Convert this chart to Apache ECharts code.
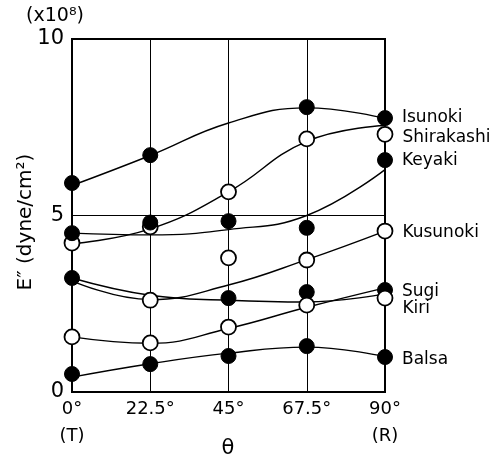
<!DOCTYPE html>
<html>
<head>
<meta charset="utf-8">
<script src="https://cdn.jsdelivr.net/npm/echarts@6/dist/echarts.min.js"></script>
<style>
  html, body { margin: 0; padding: 0; background: #fff; }
  #chart { width: 491px; height: 460px; }
</style>
</head>
<body>
<div id="chart"></div>
<script>
var angles = [0, 22.5, 45, 67.5, 90];
var tickLabels = ['0°', '22.5°', '45°', '67.5°', '90°'];
var tickSubLabels = ['(T)', '', '', '', '(R)'];

// measured points (null = no point plotted)
var isunokiPts = [5.92, 6.71, null, 8.07, 7.76];
var shirakashiPts = [4.22, 4.68, 5.67, 7.17, 7.3];
var keyakiPts = [4.5, 4.8, 4.84, 4.65, 6.57];
var kusunokiPts = [null, 2.6, 3.8, 3.74, 4.56];
var sugiPts = [3.23, null, 2.66, 2.83, 2.89];
var kiriPts = [1.56, 1.39, 1.84, 2.46, 2.66];
var balsaPts = [0.51, 0.79, 1.02, 1.3, 0.99];

// hand-drawn fitted curves
var isunokiCurve = [5.85, 6.7, 7.62, 8.05, 7.75];
var shirakashiCurve = [4.2, 4.62, 5.67, 7.1, 7.55];
var keyakiCurve = [4.5, 4.45, 4.6, 5.0, 6.3];
var kusunokiCurve = [3.15, 2.62, 3.03, 3.75, 4.56];
var sugiCurve = [3.23, 2.74, 2.6, 2.55, 2.78];
var kiriCurve = [1.56, 1.38, 1.8, 2.4, 2.95];
var balsaCurve = [0.42, 0.8, 1.1, 1.27, 1.0];

var names = ['Isunoki', 'Shirakashi', 'Keyaki', 'Kusunoki', 'Sugi', 'Kiri', 'Balsa'];
var filled = [true, false, true, false, true, false, true];
var labelOffsets = [0, 3, 0, 2, 2, 10, 3];
var allPts = [isunokiPts, shirakashiPts, keyakiPts, kusunokiPts, sugiPts, kiriPts, balsaPts];
var allCurves = [isunokiCurve, shirakashiCurve, keyakiCurve, kusunokiCurve, sugiCurve, kiriCurve, balsaCurve];

var FONT = 'DejaVu Sans';

function pairs(arr) {
    var out = [];
    for (var i = 0; i < angles.length; i++) {
        if (arr[i] !== null) out.push([angles[i], arr[i]]);
    }
    return out;
}

var series = [];
allCurves.forEach(function (c, k) {
    series.push({
        name: names[k] + ' curve',
        type: 'line',
        data: pairs(c),
        smooth: 0.45,
        showSymbol: false,
        lineStyle: { color: '#000', width: 1.4 },
        z: 2,
        silent: true
    });
});
allPts.forEach(function (p, k) {
    var data = pairs(p).map(function (d) {
        var item = { value: d };
        if (d[0] === 90) {
            item.label = {
                show: true,
                position: 'right',
                distance: 9,
                offset: [0, labelOffsets[k]],
                formatter: names[k],
                color: '#000',
                fontFamily: FONT,
                fontSize: 17
            };
        }
        return item;
    });
    series.push({
        name: names[k],
        type: 'scatter',
        data: data,
        symbol: 'circle',
        symbolSize: 15,
        itemStyle: filled[k]
            ? { color: '#000', borderColor: '#000', borderWidth: 1, opacity: 1 }
            : { color: '#fff', borderColor: '#000', borderWidth: 1.8, opacity: 1 },
        z: 3
    });
});

var chart = echarts.init(document.getElementById('chart'));
chart.setOption({
    animation: false,
    grid: {
        left: 72, right: 106, top: 39, bottom: 68,
        show: true, borderColor: '#000', borderWidth: 2
    },
    xAxis: {
        type: 'value',
        min: 0, max: 90, interval: 22.5,
        axisLine: { show: false },
        axisTick: { show: false },
        splitLine: { show: true, lineStyle: { color: '#000', width: 1 } },
        axisLabel: {
            color: '#000', fontFamily: FONT, fontSize: 18, lineHeight: 27, margin: 4,
            formatter: function (v) {
                var i = angles.indexOf(v);
                if (i < 0) return '';
                return tickSubLabels[i] ? tickLabels[i] + '\n' + tickSubLabels[i] : tickLabels[i];
            }
        }
    },
    yAxis: {
        type: 'value',
        min: 0, max: 10, interval: 5,
        axisLine: { show: false },
        axisTick: { show: false },
        splitLine: { show: true, lineStyle: { color: '#000', width: 1 } },
        axisLabel: { color: '#000', fontFamily: FONT, fontSize: 21, margin: 8 }
    },
    graphic: [
        {
            type: 'text', x: 55, y: 16,
            style: {
                text: '(x10⁸)', font: '19px "DejaVu Sans"', fill: '#000',
                align: 'center', verticalAlign: 'middle'
            }
        },
        {
            type: 'text', x: 26, y: 222, rotation: Math.PI / 2,
            style: {
                text: 'E″ (dyne/cm²)', font: '20px "DejaVu Sans"', fill: '#000',
                align: 'center', verticalAlign: 'middle'
            }
        },
        {
            type: 'text', x: 228, y: 449,
            style: {
                text: 'θ', font: '21px "DejaVu Sans"', fill: '#000',
                align: 'center', verticalAlign: 'middle'
            }
        }
    ],
    series: series
});
</script>
</body>
</html>
